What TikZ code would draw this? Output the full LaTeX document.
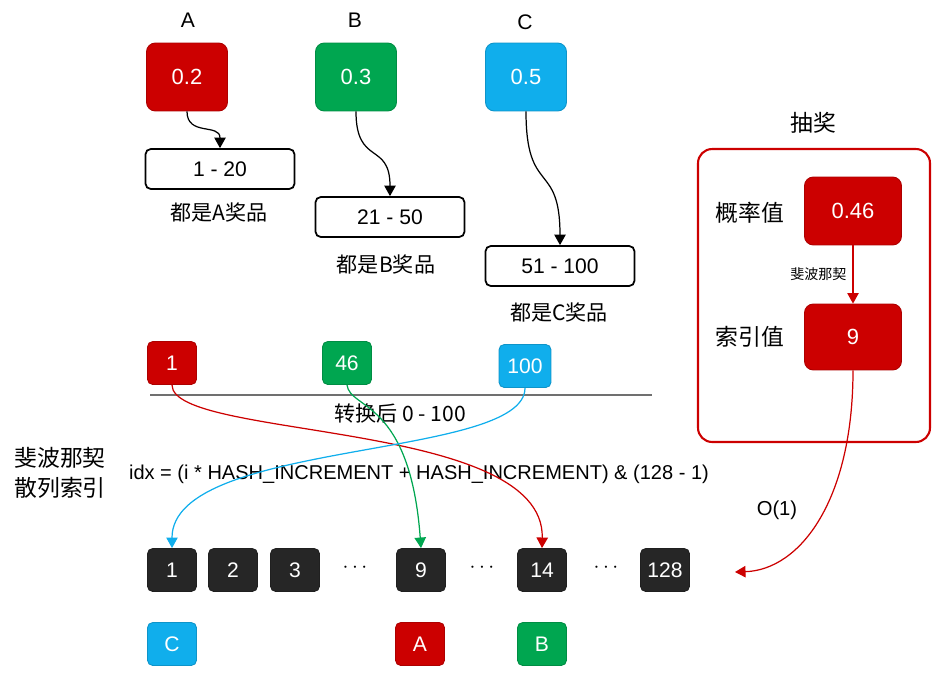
\documentclass[tikz,border=0pt]{standalone}
\usepackage{fontspec}
\setmainfont{Liberation Sans}
\newfontfamily\cjk{Noto Sans CJK SC}
\usetikzlibrary{arrows.meta,calc}
\definecolor{PrizeRed}{HTML}{CC0000}
\definecolor{PrizeGreen}{HTML}{00A650}
\definecolor{PrizeBlue}{HTML}{10AEEC}
\definecolor{SlotClr}{HTML}{262626}
\definecolor{RuleClr}{HTML}{707070}

\begin{document}
\begin{tikzpicture}[x=0.02cm,y=-0.02cm,
  prob/.style={draw=#1!85!black,fill=#1,line width=0.5pt,rounded corners=5pt,inner sep=0pt,
    minimum width=1.62cm,minimum height=1.36cm,text=white,font=\fontsize{12.5}{15}\selectfont},
  rangebox/.style={draw,line width=1pt,rounded corners=3pt,inner sep=0pt,
    minimum width=2.98cm,minimum height=0.8cm,font=\fontsize{12}{14}\selectfont},
  numbox/.style={draw=#1!85!black,fill=#1,line width=0.5pt,rounded corners=3pt,inner sep=0pt,
    minimum width=0.98cm,minimum height=0.86cm,text=white,font=\fontsize{12}{14}\selectfont},
  note/.style={font=\cjk\fontsize{12}{14}\selectfont},
  link/.style={-{Triangle[length=6pt,width=6.5pt]},line width=0.7pt},
]
\useasboundingbox (0,0) rectangle (944,673);

\node[font=\fontsize{12}{14}\selectfont] (tA) at (188,20) {A};
\node[font=\fontsize{12}{14}\selectfont] (tB) at (355,20) {B};
\node[font=\fontsize{12}{14}\selectfont] (tC) at (525,22) {C};

\node[prob=PrizeRed] (pA) at (187,77) {0.2};
\node[prob=PrizeGreen] (pB) at (356,77) {0.3};
\node[prob=PrizeBlue] (pC) at (526,77) {0.5};

\node[rangebox] (rA) at (220,169) {1 - 20};
\node[rangebox] (rB) at (390,217) {21 - 50};
\node[rangebox] (rC) at (560,266) {51 - 100};

\node[note] (nA) at (219,212) {都是A奖品};
\node[note] (nB) at (386,264) {都是B奖品};
\node[note] (nC) at (559,312) {都是C奖品};

\draw[link] (pA.south) .. controls +(0,25) and +(0,-25) .. (rA.north);
\draw[link] (pB.south) .. controls +(0,55) and +(0,-55) .. (rB.north);
\draw[link] (pC.south) .. controls +(0,85) and +(0,-85) .. (rC.north);

% draw panel
\node[font=\cjk\fontsize{13}{15}\selectfont] (lotto) at (813,123) {抽奖};
\node[draw=PrizeRed,line width=1.2pt,rounded corners=8pt,minimum width=4.64cm,minimum height=5.86cm] (panel) at (814,295.5) {};
\node[prob=PrizeRed,minimum width=1.94cm] (v046) at (853,211) {0.46};
\node[prob=PrizeRed,minimum width=1.94cm,minimum height=1.32cm] (v9) at (853,337) {9};
\node[font=\cjk\fontsize{13}{15}\selectfont] (lRate) at (750,213) {概率值};
\node[font=\cjk\fontsize{13}{15}\selectfont] (lIdx) at (750,337) {索引值};
\draw[link,PrizeRed] (v046) -- node[left,text=black,font=\cjk\fontsize{8}{10}\selectfont] {斐波那契} (v9);

\node[numbox=PrizeRed] (iA) at (172,363) {1};
\node[numbox=PrizeGreen] (iB) at (347,363) {46};
\node[numbox=PrizeBlue,minimum width=1.04cm] (iC) at (525,366) {100};
\coordinate (ruleL) at (150,395);
\coordinate (ruleR) at (652,395);
\draw[RuleClr,line width=1.2pt] (ruleL) -- (ruleR);
\node[note] (conv) at (400,413) {转换后 0 - 100};

\node[font=\cjk\fontsize{13}{17}\selectfont,align=center] (fib) at (60,473) {斐波那契\\散列索引};
\node[font=\fontsize{11.4}{13}\selectfont] (idx) at (419,474) {idx = (i * HASH\_INCREMENT + HASH\_INCREMENT) \& (128 - 1)};

\foreach \n/\x in {1/172,2/233,3/295,9/421,14/542,128/665}
  \node[numbox=SlotClr] (s\n) at (\x,570) {\n};
\foreach \x [count=\i] in {355,482,606}
  \node[font=\fontsize{13}{15}\selectfont] (dots\i) at (\x,568) {$\cdots$};

\node[numbox=PrizeBlue] (gC) at (172,644) {C};
\node[numbox=PrizeRed] (gA) at (420,644) {A};
\node[numbox=PrizeGreen] (gB) at (542,644) {B};

\draw[link,PrizeRed] (iA.south) .. controls +(0,55) and +(3,-129) .. (s14.north);
\draw[link,PrizeGreen] (iB.south) .. controls +(3,25) and +(-11,-149) .. (s9.north);
\draw[link,PrizeBlue] (iC.south) .. controls +(0,72) and +(0,-109) .. (s1.north);

\coordinate (hit) at (735,572);
\draw[link,PrizeRed] (v9.south) .. controls +(0,130) and +(65,-2) .. (hit);
\node[font=\fontsize{11.5}{13}\selectfont] (cost) at (777,510) {O(1)};
\end{tikzpicture}
\end{document}
